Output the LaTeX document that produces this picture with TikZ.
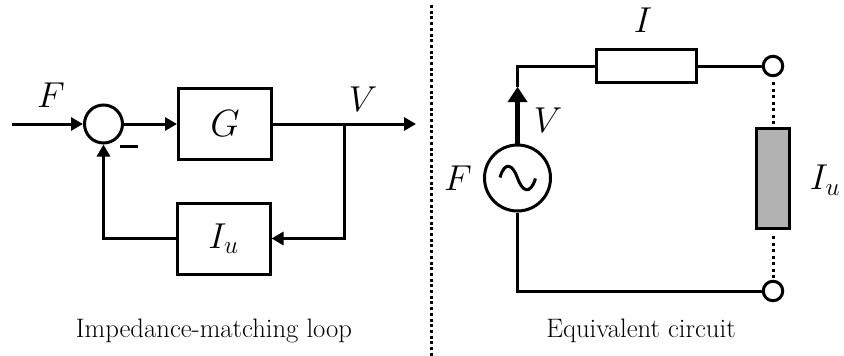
\RequirePackage{fix-cm}
\documentclass[tikz,border=0pt]{standalone}
\usetikzlibrary{arrows.meta}
\newcommand{\lbl}{\fontsize{36}{40}\selectfont}
\newcommand{\cpt}{\fontsize{26.7}{30}\selectfont}
\tikzset{
  wire/.style={line width=3pt},
  arr/.style={wire,-{Triangle[length=12pt,width=13pt]}},
  blockbox/.style={draw,line width=3pt,minimum width=93pt,minimum height=71pt,inner sep=0pt,font=\lbl},
  sumcirc/.style={draw,circle,line width=3pt,minimum size=38pt,inner sep=0pt},
  term/.style={draw,circle,line width=3pt,minimum size=19.5pt,inner sep=0pt,fill=white},
  txt/.style={inner sep=0pt,font=\lbl},
  captxt/.style={inner sep=0pt,font=\cpt},
  dotline/.style={line width=3pt,dash pattern=on 3pt off 3.5pt},
  divline/.style={line width=3pt,dash pattern=on 3pt off 2.7pt}
}
\begin{document}
\begin{tikzpicture}[x=1pt,y=-1pt]
\useasboundingbox (0,0) rectangle (844,356);
% left
\node[sumcirc] (sum) at (103.5,124) {};
\node[blockbox] (G) at (225,124) {\fontsize{38}{40}\selectfont$G$};
\node[blockbox] (Iu) at (223.5,238.5) {$I_u$};
\coordinate (in) at (12,124);
\coordinate (out) at (416,124);
\coordinate (br) at (344,124);
\coordinate (brd) at (344,238.5);
\coordinate (fbl) at (103.5,238.5);
\coordinate (ma) at (120,146);
\coordinate (mb) at (138,146);
\draw[arr] (in) -- (sum.west);
\draw[arr] (sum.east) -- (G.west);
\draw[arr] (G.east) -- (out);
\draw[arr] (br) -- (brd) -- (Iu.east);
\draw[arr] (Iu.west) -- (fbl) -- (sum.south);
\draw[line width=3pt] (ma) -- (mb);
\node[txt] (lF) at (51,95) {$F$};
\node[txt] (lV) at (363,99) {$V$};
\node[captxt] (c1) at (214,331) {Impedance-matching loop};
% divider
\coordinate (da) at (431,5);
\coordinate (db) at (431,356);
\draw[divline] (da) -- (db);
% right
\node[draw,circle,line width=3pt,minimum size=66pt,inner sep=0pt] (src) at (517.5,178) {};
\draw[line width=3pt] (500,177.5) .. controls (505,160) and (513,165) .. (517.5,178) .. controls (522,191) and (530,196) .. (535.5,178.5);
\node[draw,line width=3pt,minimum width=100pt,minimum height=33pt,inner sep=0pt] (R) at (646,66) {};
\node[term] (t1) at (773,66) {};
\node[term] (t2) at (773,291) {};
\node[draw,line width=3pt,fill=black!30,minimum width=33pt,minimum height=100pt,inner sep=0pt] (Z) at (773,178.5) {};
\coordinate (tl) at (517.5,66);
\coordinate (bl) at (517.5,291);
\coordinate (tip) at (517.5,87);
\draw[wire] (tip) -- (tl) -- (R.west);
\draw[wire] (R.east) -- (t1.west);
\draw[wire] (src.south) -- (bl) -- (t2.west);
\draw[line width=4.5pt,-{Triangle[length=15pt,width=20pt,line width=0pt]}] (src.north) -- (tip);
\draw[dotline] ([yshift=-5pt]t1.south) -- (Z.north);
\draw[dotline] ([yshift=-6pt]Z.south) -- ([yshift=2pt]t2.north);
\node[txt] (lI) at (643,20) {$I$};
\node[txt] (lV2) at (548,120) {$V$};
\node[txt] (lF2) at (458,178) {$F$};
\node[txt] (lIu) at (825,180) {$I_u$};
\node[captxt] (c2) at (641,331) {Equivalent circuit};
\end{tikzpicture}
\end{document}
